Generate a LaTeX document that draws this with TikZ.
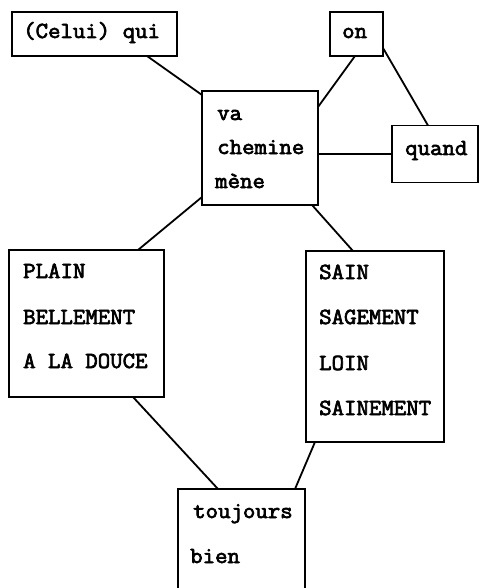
\documentclass[tikz,border=0pt]{standalone}
\usepackage{fontspec}
\newfontfamily\twfont{Latin Modern Mono}[FakeStretch=1.05, FakeBold=3]
\usetikzlibrary{calc}
\tikzset{
  box/.style={draw, line width=1.8pt, inner sep=0pt, outer sep=0pt},
  txt/.style={anchor=base west, inner sep=0pt, font=\twfont\fontsize{23}{23}\selectfont},
  link/.style={line width=1.8pt}
}
\begin{document}
\begin{tikzpicture}[x=1pt,y=-1pt]
\useasboundingbox (0,0) rectangle (479,588);
\clip (0,0) rectangle (479,588);
\fill[white] (0,0) rectangle (479,588);
% boxes
\node[box, minimum width=165pt, minimum height=44pt] (celui) at (94.5,34) {};
\node[box, minimum width=53pt, minimum height=44pt] (on) at (356.5,34) {};
\node[box, minimum width=116pt, minimum height=114pt] (va) at (260,148) {};
\node[box, minimum width=86pt, minimum height=57pt] (quand) at (435,154) {};
\node[box, minimum width=155pt, minimum height=147pt] (plain) at (86.5,323.5) {};
\node[box, minimum width=138pt, minimum height=191pt] (sain) at (375,346.5) {};
\node[box, minimum width=127pt, minimum height=111pt] (tj) at (241.5,544.5) {};
% texts
\node[txt] (t1) at (23,38) {(Celui) qui};
\node[txt] (t2) at (342,38) {on};
\node[txt] (t3) at (217,120) {va};
\node[txt] (t4) at (217,154) {chemine};
\node[txt] (t5) at (215,188) {mène};
\node[txt] (t6) at (405,155) {quand};
\node[txt] (t7) at (23,278) {PLAIN};
\node[txt] (t8) at (23,324) {BELLEMENT};
\node[txt] (t9) at (23,368) {A LA DOUCE};
\node[txt] (t10) at (319,279) {SAIN};
\node[txt] (t11) at (319,324) {SAGEMENT};
\node[txt] (t12) at (319,370) {LOIN};
\node[txt] (t13) at (319,415) {SAINEMENT};
\node[txt] (t14) at (193,518) {toujours};
\node[txt] (t15) at (190,563) {bien};
% connectors
\draw[link] ($(celui.south west)+(135,0)$) -- ($(va.north west)+(0,4)$);
\draw[link] ($(on.south west)+(25,0)$) -- ($(va.north east)+(0,16)$);
\draw[link] ($(on.south east)+(0,-8)$) -- ($(quand.north west)+(36,0)$);
\draw[link] (quand.west -| va.east) -- (quand.west);
\draw[link] ($(va.south west)+(0,-8)$) -- ($(plain.north west)+(129,0)$);
\draw[link] ($(va.south east)+(-6,0)$) -- ($(sain.north west)+(47,0)$);
\draw[link] ($(plain.south west)+(124,0)$) -- ($(tj.north west)+(40,0)$);
\draw[link] ($(sain.south west)+(9,0)$) -- ($(tj.north east)+(-10,0)$);
\end{tikzpicture}
\end{document}
